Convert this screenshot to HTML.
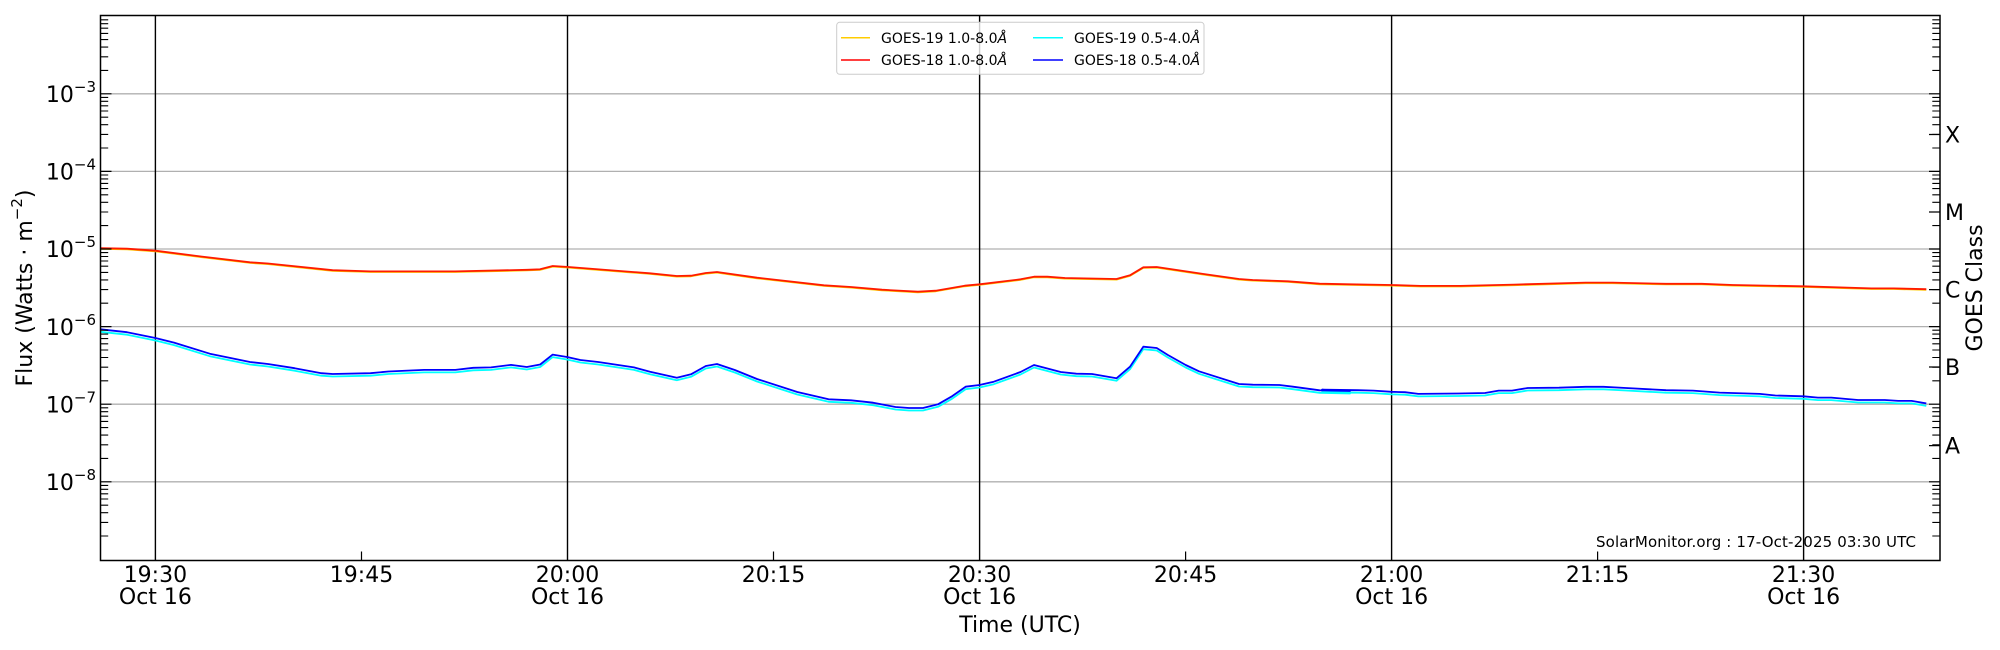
<!DOCTYPE html>
<html><head><meta charset="utf-8"><style>
html,body{margin:0;padding:0;background:#fff;}
svg{display:block;font-family:"DejaVu Sans","Liberation Sans",sans-serif;}
</style></head><body>
<svg width="2000" height="650" viewBox="0 0 2000 650" xmlns="http://www.w3.org/2000/svg">
<defs>
<path id="mL" d="M100.5,-23.4h7.7M100.5,-37h7.7M100.5,-46.7h7.7M100.5,-54.2h7.7M100.5,-60.4h7.7M100.5,-65.6h7.7M100.5,-70.1h7.7M100.5,-74h7.7" stroke="#000" stroke-width="1.1"/>
<path id="mR" d="M1940,-23.4h-7.7M1940,-37h-7.7M1940,-46.7h-7.7M1940,-54.2h-7.7M1940,-60.4h-7.7M1940,-65.6h-7.7M1940,-70.1h-7.7M1940,-74h-7.7" stroke="#000" stroke-width="1.1"/>
<polyline id="blue" fill="none" points="100.4,329.3 127,332.2 155.4,338 174,342.6 209.8,353.7 250,362 267.9,364 294.6,368.2 321.4,373.2 332.6,374 370.5,373.2 388.4,371.5 424,369.9 455.4,369.9 473.2,367.8 491,367.4 511,364.9 526.8,367 540.2,364.5 552.7,354.6 567,357 580.4,360 598.2,362 634,367.4 650,371.7 676.8,377.7 691,374.3 705.8,366 717,364 734.8,370 757,379 797.3,392 828.6,399.3 851,400.3 873.2,402.7 895.5,407 909,408 923,408 938,404.3 951.3,396.7 965.6,386.7 979.5,385 993.8,381.7 1020.5,372 1034,365 1060.7,372 1076.3,373.7 1092,374 1116.5,378.3 1130,366.7 1143.3,346.7 1156.7,348 1167.9,355 1185.7,365 1199,371.3 1239,384 1252.7,384.7 1279.5,385 1292.9,386.7 1319.6,390.3 1350,391 1322,389.7 1358,390.2 1373.7,390.6 1391.5,391.8 1405,392.2 1418.3,393.9 1458.5,393.5 1485,393 1498.7,390.6 1512,390.6 1527.7,388 1559,387.7 1585.7,386.8 1603.6,386.8 1625.9,388 1666,390.2 1692.9,390.6 1719.6,392.6 1759.8,393.9 1775.4,395.5 1803.6,396.3 1817.9,397.6 1831.3,397.6 1858,400 1884.8,400 1898.2,400.9 1911.6,400.9 1926.3,403.4"/>
<polyline id="red" fill="none" points="100.4,248.2 127,248.7 155.4,250.7 201,256.5 250,262.3 268,263.5 332.6,270.2 370.5,271.4 455,271.4 527,269.8 540,269.3 552.7,266 567,266.9 650,273.3 676.8,276 691,275.7 705.8,273 717,272 757,277.7 824,285.3 851,287 882,289.7 917.9,291.7 935.7,290.7 964.7,285.7 979.5,284.3 1020.5,279.3 1034,276.7 1047.3,276.7 1065,278 1116.5,279 1130,275.3 1143.3,267.3 1156.7,267 1203.6,274 1239,279 1252.7,280 1288,281.3 1319.6,283.7 1350,284.3 1391.5,285 1420.5,285.9 1460.7,285.9 1514,284.6 1585.7,282.6 1612.5,282.6 1666,283.8 1701.8,283.8 1733,285 1803.6,286.3 1871.4,288.4 1893.8,288.4 1926.3,289.2"/>
</defs>
<g stroke="#b0b0b0" stroke-width="1.3">
<line x1="100" x2="1940" y1="93.8" y2="93.8"/>
<line x1="100" x2="1940" y1="171.4" y2="171.4"/>
<line x1="100" x2="1940" y1="249" y2="249"/>
<line x1="100" x2="1940" y1="326.6" y2="326.6"/>
<line x1="100" x2="1940" y1="404.2" y2="404.2"/>
<line x1="100" x2="1940" y1="481.8" y2="481.8"/>
</g>
<g stroke="#000" stroke-width="1.4">
<line x1="155.4" x2="155.4" y1="15.5" y2="560.5"/>
<line x1="567.5" x2="567.5" y1="15.5" y2="560.5"/>
<line x1="979.6" x2="979.6" y1="15.5" y2="560.5"/>
<line x1="1391.6" x2="1391.6" y1="15.5" y2="560.5"/>
<line x1="1803.6" x2="1803.6" y1="15.5" y2="560.5"/>
</g>
<g stroke-width="1.8" stroke-linejoin="round">
<use href="#blue" stroke="#00ffff" transform="translate(0,2.5)"/>
<use href="#blue" stroke="#0000ff"/>
<use href="#red" stroke="#ffcc00" transform="translate(0,0.6)"/>
<use href="#red" stroke="#ff1a00"/>
</g>
<use href="#mL" transform="translate(0,559.4)"/><use href="#mL" transform="translate(0,481.8)"/><use href="#mL" transform="translate(0,404.2)"/><use href="#mL" transform="translate(0,326.6)"/><use href="#mL" transform="translate(0,249)"/><use href="#mL" transform="translate(0,171.4)"/><use href="#mL" transform="translate(0,93.8)"/>
<use href="#mR" transform="translate(0,559.4)"/><use href="#mR" transform="translate(0,481.8)"/><use href="#mR" transform="translate(0,404.2)"/><use href="#mR" transform="translate(0,326.6)"/><use href="#mR" transform="translate(0,249)"/><use href="#mR" transform="translate(0,171.4)"/><use href="#mR" transform="translate(0,93.8)"/>
<path stroke="#000" stroke-width="1.2" d="M100.5,93.8h11M100.5,171.4h11M100.5,249h11M100.5,326.6h11M100.5,404.2h11M100.5,481.8h11
M1940,93.8h-11M1940,171.4h-11M1940,249h-11M1940,326.6h-11M1940,404.2h-11M1940,481.8h-11
M1940,134.5h-11M1940,212h-11M1940,289.6h-11M1940,367h-11M1940,445.6h-11
M361.5,560.5v-9M773.5,560.5v-9M1185.6,560.5v-9M1597.6,560.5v-9"/>
<rect x="100.5" y="15.5" width="1839.5" height="545" fill="none" stroke="#000" stroke-width="1.5"/>
<rect x="836.7" y="22.3" width="367.3" height="52" rx="3" fill="#fff" fill-opacity="0.8" stroke="#cccccc" stroke-width="1"/>
<g stroke-width="1.5">
<line x1="841" x2="870" y1="37.7" y2="37.7" stroke="#ffcc00"/>
<line x1="841" x2="870" y1="60" y2="60" stroke="#ff0000"/>
<line x1="1033" x2="1063" y1="37.7" y2="37.7" stroke="#00ffff"/>
<line x1="1033" x2="1063" y1="60" y2="60" stroke="#0000ff"/>
</g>
<g font-size="14" fill="#000">
<text x="881" y="42.8">GOES-19 1.0-8.0<tspan font-style="italic">Å</tspan></text>
<text x="881" y="65.1">GOES-18 1.0-8.0<tspan font-style="italic">Å</tspan></text>
<text x="1074" y="42.8">GOES-19 0.5-4.0<tspan font-style="italic">Å</tspan></text>
<text x="1074" y="65.1">GOES-18 0.5-4.0<tspan font-style="italic">Å</tspan></text>
</g>
<g font-size="22" fill="#000" text-anchor="end">
<text x="96" y="102">10<tspan font-size="15" dy="-10">−3</tspan></text>
<text x="96" y="179.6">10<tspan font-size="15" dy="-10">−4</tspan></text>
<text x="96" y="257.2">10<tspan font-size="15" dy="-10">−5</tspan></text>
<text x="96" y="334.8">10<tspan font-size="15" dy="-10">−6</tspan></text>
<text x="96" y="412.4">10<tspan font-size="15" dy="-10">−7</tspan></text>
<text x="96" y="490">10<tspan font-size="15" dy="-10">−8</tspan></text>
</g>
<g font-size="22" fill="#000" text-anchor="middle">
<text x="155.4" y="582">19:30</text><text x="155.4" y="604">Oct 16</text>
<text x="361.5" y="582">19:45</text>
<text x="567.5" y="582">20:00</text><text x="567.5" y="604">Oct 16</text>
<text x="773.5" y="582">20:15</text>
<text x="979.6" y="582">20:30</text><text x="979.6" y="604">Oct 16</text>
<text x="1185.6" y="582">20:45</text>
<text x="1391.6" y="582">21:00</text><text x="1391.6" y="604">Oct 16</text>
<text x="1597.6" y="582">21:15</text>
<text x="1803.6" y="582">21:30</text><text x="1803.6" y="604">Oct 16</text>
<text x="1020" y="632">Time (UTC)</text>
<text transform="translate(32,288) rotate(-90)">Flux (Watts · m<tspan font-size="15" dy="-10">−2</tspan><tspan dy="10">)</tspan></text>
<text transform="translate(1982,288) rotate(-90)">GOES Class</text>
</g>
<g font-size="22" fill="#000">
<text x="1945" y="142.5">X</text>
<text x="1945" y="220">M</text>
<text x="1945" y="297.6">C</text>
<text x="1945" y="375">B</text>
<text x="1945" y="453.6">A</text>
</g>
<text x="1596" y="547" font-size="15" fill="#000" textLength="320">SolarMonitor.org : 17-Oct-2025 03:30 UTC</text>
</svg>
</body></html>
